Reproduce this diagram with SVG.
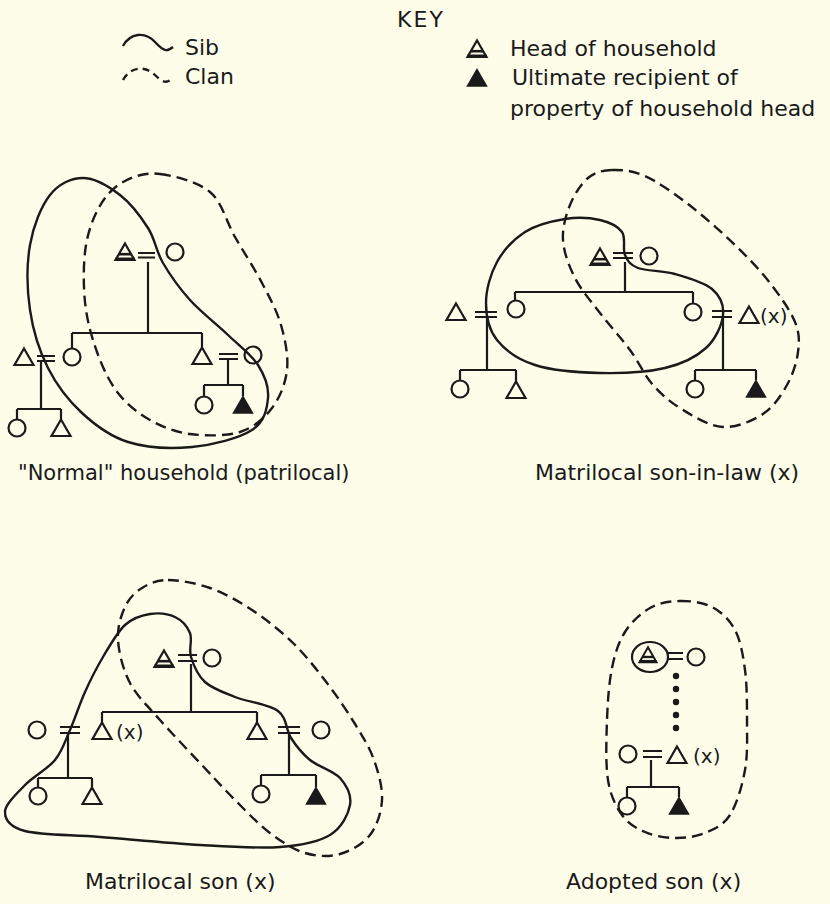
<svg xmlns="http://www.w3.org/2000/svg" xmlns:xlink="http://www.w3.org/1999/xlink" width="830" height="904" viewBox="0 0 830 904">
<style>
.t{font-family:"DejaVu Sans","Liberation Sans",sans-serif;font-size:22px;fill:#1a1a1a}
.tx{font-family:"DejaVu Sans","Liberation Sans",sans-serif;font-size:20px;fill:#1a1a1a}
.k{fill:none;stroke:#1a1a1a;stroke-width:2.2}
.sib{fill:none;stroke:#1a1a1a;stroke-width:2.4}
.clan{fill:none;stroke:#1a1a1a;stroke-width:2.4;stroke-dasharray:11 6}
.sym{fill:none;stroke:#1a1a1a;stroke-width:2.2}
.fill{fill:#1a1a1a;stroke:#1a1a1a;stroke-width:1.5}
</style>
<defs>
<path id="tri" class="sym" d="M0,-8.5 L9.5,8 L-9.5,8 Z"/>
<path id="trif" class="fill" d="M0,-8.5 L9.5,8 L-9.5,8 Z"/>
<g id="head"><path class="sym" d="M0,-8.5 L9.5,8 L-9.5,8 Z"/><path d="M-6,2.2 L6,2.2" stroke="#1a1a1a" stroke-width="2.6"/><path d="M-9.5,7 L9.5,7" stroke="#1a1a1a" stroke-width="3"/></g>
<circle id="cir" class="sym" r="8.5"/>
</defs>
<rect width="830" height="904" fill="#fdfdea"/>

<g id="key">
<text class="t" x="421" y="27" text-anchor="middle" letter-spacing="2">KEY</text>
<path class="sib" d="M123,46 C130,33 145,31 155,42 S168,51 173,47"/>
<text class="t" x="185" y="55">Sib</text>
<path class="sib" d="M123,80 C130,67 145,65 155,75 S168,82 173,78" stroke-dasharray="7 5"/>
<text class="t" x="185" y="84">Clan</text>
<use xlink:href="#head" x="477" y="49"/>
<text class="t" x="510" y="56">Head of household</text>
<use xlink:href="#trif" x="477" y="78"/>
<text class="t" x="512" y="85">Ultimate recipient of</text>
<text class="t" x="510" y="116">property of household head</text>
</g>

<!-- Diagram 1 -->
<g id="d1">
<g id="d1-connectors" class="k">
<path d="M138,253 H155 M138,257.5 H155"/>
<path d="M148,262 V333 M72,333 H202 M72,333 V348 M202,333 V347"/>
<path d="M37,356 H55 M37,361 H55"/>
<path d="M219,354 H238 M219,359 H238"/>
<path d="M41,361 V409 M17,409 H61 M17,409 V419 M61,409 V419"/>
<path d="M228,359 V385 M204,385 H243 M204,385 V396 M243,385 V396"/>
</g>
<g id="d1-head"><use xlink:href="#head" x="125" y="252"/></g>
<g id="d1-wife"><use xlink:href="#cir" x="175" y="252"/></g>
<g id="d1-daughter"><use xlink:href="#cir" x="72" y="357"/></g>
<g id="d1-son"><use xlink:href="#tri" x="202" y="356"/></g>
<g id="d1-dhusband"><use xlink:href="#tri" x="24" y="357"/></g>
<g id="d1-swife"><use xlink:href="#cir" x="253" y="355"/></g>
<g id="d1-gd1"><use xlink:href="#cir" x="17" y="428"/></g>
<g id="d1-gs1"><use xlink:href="#tri" x="61" y="428"/></g>
<g id="d1-gd2"><use xlink:href="#cir" x="204" y="405"/></g>
<g id="d1-gs2"><use xlink:href="#trif" x="243" y="405"/></g>
<path class="sib" d="M83,178 C94.7,178 109.2,186.7 120,195 C130.8,203.3 140.8,216.7 148,228 C155.2,239.3 156,251 163,263 C170,275 179.2,288 190,300 C200.8,312 216.7,324.2 228,335 C239.3,345.8 251.3,354.5 258,365 C264.7,375.5 269,387.2 268,398 C267,408.8 264.7,421.8 252,430 C239.3,438.2 212.7,445 192,447 C171.3,449 146.3,447.7 128,442 C109.7,436.3 95.3,425.3 82,413 C68.7,400.7 56.7,385.2 48,368 C39.3,350.8 33,330.5 30,310 C27,289.5 26.7,264.2 30,245 C33.3,225.8 41.2,206.2 50,195 C58.8,183.8 71.3,178 83,178 Z"/>
<path class="clan" d="M160,174 C174.2,175.8 197.5,181.5 210,192 C222.5,202.5 226.3,221.8 235,237 C243.7,252.2 254.3,268.3 262,283 C269.7,297.7 276.8,310.5 281,325 C285.2,339.5 288.5,356.2 287,370 C285.5,383.8 279.8,397.7 272,408 C264.2,418.3 253.7,427.7 240,432 C226.3,436.3 205,436 190,434 C175,432 162,426.8 150,420 C138,413.2 126.8,404.3 118,393 C109.2,381.7 102.5,367.2 97,352 C91.5,336.8 86.8,319.8 85,302 C83.2,284.2 83.3,261.3 86,245 C88.7,228.7 94.5,214.7 101,204 C107.5,193.3 115.2,186 125,181 C134.8,176 145.8,172.2 160,174 Z"/>
<text class="t" x="18" y="480" style="font-size:21px">"Normal" household (patrilocal)</text>
</g>

<!-- Diagram 2 -->
<g id="d2">
<g id="d2-connectors" class="k">
<path d="M613,253 H633 M613,258 H633"/>
<path d="M625,262 V292 M515,292 H693 M515,292 V300 M693,292 V303"/>
<path d="M475,312 H497 M475,317 H497"/>
<path d="M712,311 H732 M712,317 H732"/>
<path d="M487,317 V370 M460,370 H516 M460,370 V380 M516,370 V381"/>
<path d="M723,317 V370 M695,370 H756 M695,370 V380 M756,370 V380"/>
</g>
<g id="d2-head"><use xlink:href="#head" x="600" y="257"/></g>
<g id="d2-wife"><use xlink:href="#cir" x="649" y="256"/></g>
<g id="d2-d1"><use xlink:href="#cir" x="516" y="309"/></g>
<g id="d2-d2"><use xlink:href="#cir" x="693" y="312"/></g>
<g id="d2-h1"><use xlink:href="#tri" x="456" y="312"/></g>
<g id="d2-x"><use xlink:href="#tri" x="749" y="315"/><text class="tx" x="760" y="323">(x)</text></g>
<g id="d2-gd1"><use xlink:href="#cir" x="460" y="389"/></g>
<g id="d2-gs1"><use xlink:href="#tri" x="516" y="390"/></g>
<g id="d2-gd2"><use xlink:href="#cir" x="695" y="389"/></g>
<g id="d2-gs2"><use xlink:href="#trif" x="756" y="389"/></g>
<path class="sib" d="M625,255 C622.3,249 626.2,237.8 622,232 C617.8,226.2 609.5,222.2 600,220 C590.5,217.8 577.5,217 565,219 C552.5,221 536.3,224.8 525,232 C513.7,239.2 503.5,250.2 497,262 C490.5,273.8 486,290 486,303 C486,316 488.8,329.7 497,340 C505.2,350.3 517.8,359.5 535,365 C552.2,370.5 578.3,372.5 600,373 C621.7,373.5 647.3,372.2 665,368 C682.7,363.8 696.3,356.8 706,348 C715.7,339.2 722,324.8 723,315 C724,305.2 720,295.8 712,289 C704,282.2 687.3,277.5 675,274 C662.7,270.5 646.3,271.2 638,268 C629.7,264.8 627.7,261 625,255 Z"/>
<path class="clan" d="M612,170 C621.5,169.7 632.3,170.3 645,176 C657.7,181.7 673,192.5 688,204 C703,215.5 721.3,231.8 735,245 C748.7,258.2 760,270.2 770,283 C780,295.8 790.3,310.5 795,322 C799.7,333.5 799.3,341.5 798,352 C796.7,362.5 792.8,374.7 787,385 C781.2,395.3 773.7,407 763,414 C752.3,421 736.3,427.7 723,427 C709.7,426.3 694.7,417 683,410 C671.3,403 661.8,395 653,385 C644.2,375 638.8,362 630,350 C621.2,338 609.2,325 600,313 C590.8,301 581.2,290.2 575,278 C568.8,265.8 563.8,252.2 563,240 C562.2,227.8 565.8,215.3 570,205 C574.2,194.7 581,183.8 588,178 C595,172.2 602.5,170.3 612,170 Z"/>
<text class="t" x="535" y="480">Matrilocal son-in-law (x)</text>
</g>

<!-- Diagram 3 -->
<g id="d3">
<g id="d3-connectors" class="k">
<path d="M178,655 H197 M178,661 H197"/>
<path d="M191,664 V712 M102,712 H257 M102,712 V723 M257,712 V723"/>
<path d="M60,727 H80 M60,733 H80"/>
<path d="M278,727 H300 M278,733 H300"/>
<path d="M68,733 V778 M38,778 H92 M38,778 V787 M92,778 V787"/>
<path d="M289,733 V775 M261,775 H316 M261,775 V785 M316,775 V787"/>
</g>
<g id="d3-head"><use xlink:href="#head" x="164" y="659"/></g>
<g id="d3-wife"><use xlink:href="#cir" x="212" y="658"/></g>
<g id="d3-x"><use xlink:href="#tri" x="102" y="731"/><text class="tx" x="116" y="739">(x)</text></g>
<g id="d3-son"><use xlink:href="#tri" x="257" y="731"/></g>
<g id="d3-xwife"><use xlink:href="#cir" x="37" y="730"/></g>
<g id="d3-swife"><use xlink:href="#cir" x="321" y="730"/></g>
<g id="d3-gd1"><use xlink:href="#cir" x="38" y="796"/></g>
<g id="d3-gs1"><use xlink:href="#tri" x="92" y="796"/></g>
<g id="d3-gd2"><use xlink:href="#cir" x="261" y="794"/></g>
<g id="d3-gs2"><use xlink:href="#trif" x="316" y="796"/></g>
<path class="sib" d="M191,657 C188.5,648.8 192.7,639.7 190,633 C187.3,626.3 181.7,620.2 175,617 C168.3,613.8 158.3,612.7 150,614 C141.7,615.3 132.8,617.8 125,625 C117.2,632.2 109.7,645.8 103,657 C96.3,668.2 90.5,679.8 85,692 C79.5,704.2 75,718.7 70,730 C65,741.3 62.5,750.8 55,760 C47.5,769.2 33.3,776.3 25,785 C16.7,793.7 5,804.3 5,812 C5,819.7 9.2,826.8 25,831 C40.8,835.2 70.8,834.7 100,837 C129.2,839.3 170,843.3 200,845 C230,846.7 258.3,848.7 280,847 C301.7,845.3 318.3,842 330,835 C341.7,828 348.3,814.5 350,805 C351.7,795.5 346.7,785.5 340,778 C333.3,770.5 318.2,766.7 310,760 C301.8,753.3 296.3,746.2 291,738 C285.7,729.8 287.3,717.8 278,711 C268.7,704.2 247.2,701.8 235,697 C222.8,692.2 212.3,688.7 205,682 C197.7,675.3 193.5,665.2 191,657 Z"/>
<path class="clan" d="M168,580 C179.3,580 196,583 210,588 C224,593 238.2,600.8 252,610 C265.8,619.2 280.5,630.8 293,643 C305.5,655.2 316.7,669.5 327,683 C337.3,696.5 347.2,711.2 355,724 C362.8,736.8 369.5,747.3 374,760 C378.5,772.7 382.7,787.5 382,800 C381.3,812.5 377,826 370,835 C363,844 350.8,851 340,854 C329.2,857 316.7,856.5 305,853 C293.3,849.5 281.7,841.8 270,833 C258.3,824.2 246.7,811.7 235,800 C223.3,788.3 212.5,776.3 200,763 C187.5,749.7 171.7,733.3 160,720 C148.3,706.7 137,696.3 130,683 C123,669.7 118.8,652.7 118,640 C117.2,627.3 121,615.7 125,607 C129,598.3 134.8,592.5 142,588 C149.2,583.5 156.7,580 168,580 Z"/>
<text class="t" x="85" y="889">Matrilocal son (x)</text>
</g>

<!-- Diagram 4 -->
<g id="d4">
<g id="d4-connectors" class="k">
<path d="M668,653 H683 M668,659 H683"/>
<path d="M643,751 H662 M643,757 H662"/>
<path d="M651,760 V787 M627,787 H679 M627,787 V797 M679,787 V797"/>
</g>
<g id="d4-dots" fill="#1a1a1a">
<circle cx="676" cy="676" r="3.2"/><circle cx="676" cy="689" r="3.2"/><circle cx="676" cy="702" r="3.2"/><circle cx="676" cy="715" r="3.2"/><circle cx="676" cy="728" r="3.2"/>
</g>
<g id="d4-head"><ellipse class="sym" cx="650" cy="657" rx="18" ry="15"/><use xlink:href="#head" x="648" y="655" transform="translate(648 655) scale(0.9) translate(-648 -655)"/></g>
<g id="d4-wife"><use xlink:href="#cir" x="696" y="657"/></g>
<g id="d4-xwife"><use xlink:href="#cir" x="628" y="754"/></g>
<g id="d4-x"><use xlink:href="#tri" x="677" y="755"/><text class="tx" x="693" y="763">(x)</text></g>
<g id="d4-gd"><use xlink:href="#cir" x="627" y="806"/></g>
<g id="d4-gs"><use xlink:href="#trif" x="679" y="806"/></g>
<path class="clan" d="M680,601 C690.3,600.8 702.8,602.2 712,607 C721.2,611.8 729.5,619.5 735,630 C740.5,640.5 743,655 745,670 C747,685 747,703.3 747,720 C747,736.7 747.8,754.2 745,770 C742.2,785.8 736.7,804.5 730,815 C723.3,825.5 714.2,829.2 705,833 C695.8,836.8 685,838.2 675,838 C665,837.8 653.8,835.8 645,832 C636.2,828.2 628.2,823.7 622,815 C615.8,806.3 610.5,795.8 608,780 C605.5,764.2 606.3,738.7 607,720 C607.7,701.3 609,682.7 612,668 C615,653.3 618.7,642 625,632 C631.3,622 640.8,613.2 650,608 C659.2,602.8 669.7,601.2 680,601 Z"/>
<text class="t" x="566" y="889">Adopted son (x)</text>
</g>
</svg>
